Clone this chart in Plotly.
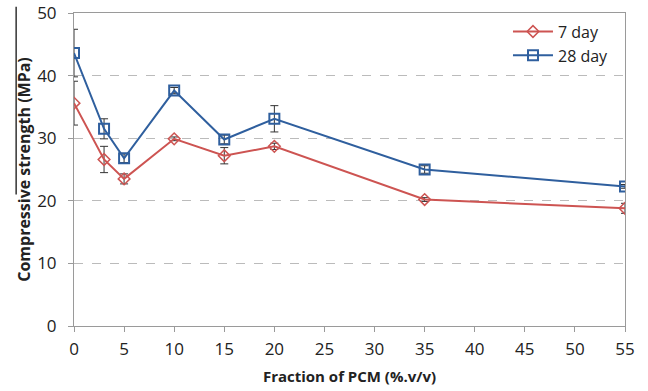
import plotly.graph_objects as go

pcm = [0, 3, 5, 10, 15, 20, 35, 55]
day7 = [35.6, 26.6, 23.5, 29.9, 27.2, 28.7, 20.2, 18.8]
day7_err = [3.5, 2.1, 0.8, 0.3, 1.3, 0.5, 0.3, 0.8]
day28 = [43.6, 31.5, 26.8, 37.6, 29.8, 33.1, 25.0, 22.3]
day28_err = [3.8, 1.6, 0.7, 0.5, 0.7, 2.1, 0.6, 0.3]

red = "#CD5452"
blue = "#2F5F9E"

fig = go.Figure()
fig.add_trace(go.Scatter(
    x=pcm, y=day7, name="7 day", mode="lines+markers",
    line=dict(color=red, width=2),
    marker=dict(symbol="diamond-open", size=9, color=red, line=dict(width=1.5, color=red)),
    error_y=dict(type="data", array=day7_err, color="#333333", thickness=1, width=4),
))
fig.add_trace(go.Scatter(
    x=pcm, y=day28, name="28 day", mode="lines+markers",
    line=dict(color=blue, width=2),
    marker=dict(symbol="square-open", size=10, color=blue, line=dict(width=2, color=blue)),
    error_y=dict(type="data", array=day28_err, color="#333333", thickness=1, width=4),
))

font_family = "Open Sans, Liberation Sans, Arial, sans-serif"
fig.update_layout(
    width=648, height=391,
    margin=dict(l=74, r=23, t=13, b=65, autoexpand=False),
    paper_bgcolor="white", plot_bgcolor="white",
    font=dict(family=font_family, size=17, color="#222222"),
    legend=dict(x=0.98, y=0.995, xanchor="right", yanchor="top",
                bgcolor="rgba(0,0,0,0)", font=dict(size=16), itemwidth=40,
                tracegroupgap=0),
    showlegend=True,
)
fig.update_xaxes(
    range=[0, 55], tickvals=[0, 5, 10, 15, 20, 25, 30, 35, 40, 45, 50, 55],
    showgrid=False, zeroline=False, automargin=False,
    showline=True, linecolor="#9a9a9a", linewidth=1, mirror=True,
    ticks="outside", ticklen=5, tickcolor="#9a9a9a", ticklabelstandoff=3,
    title=dict(text="<b>Fraction of PCM (%.v/v)</b>", font=dict(size=15), standoff=12),
)
fig.update_yaxes(
    range=[0, 50], tickvals=[0, 10, 20, 30, 40, 50],
    showgrid=True, gridcolor="#bbbbbb", griddash="dash", gridwidth=1,
    zeroline=False, automargin=False,
    showline=True, linecolor="#9a9a9a", linewidth=1, mirror=True,
    ticks="outside", ticklen=5, tickcolor="#9a9a9a", ticklabelstandoff=8,
    title=dict(text="<b>Compressive strength (MPa)</b>", font=dict(size=16), standoff=2),
)
fig.add_shape(type="line", xref="paper", yref="paper",
              x0=-0.105, x1=-0.105, y0=0.42, y1=1.02,
              line=dict(color="#333333", width=1.5))
fig.write_html("out.html")
